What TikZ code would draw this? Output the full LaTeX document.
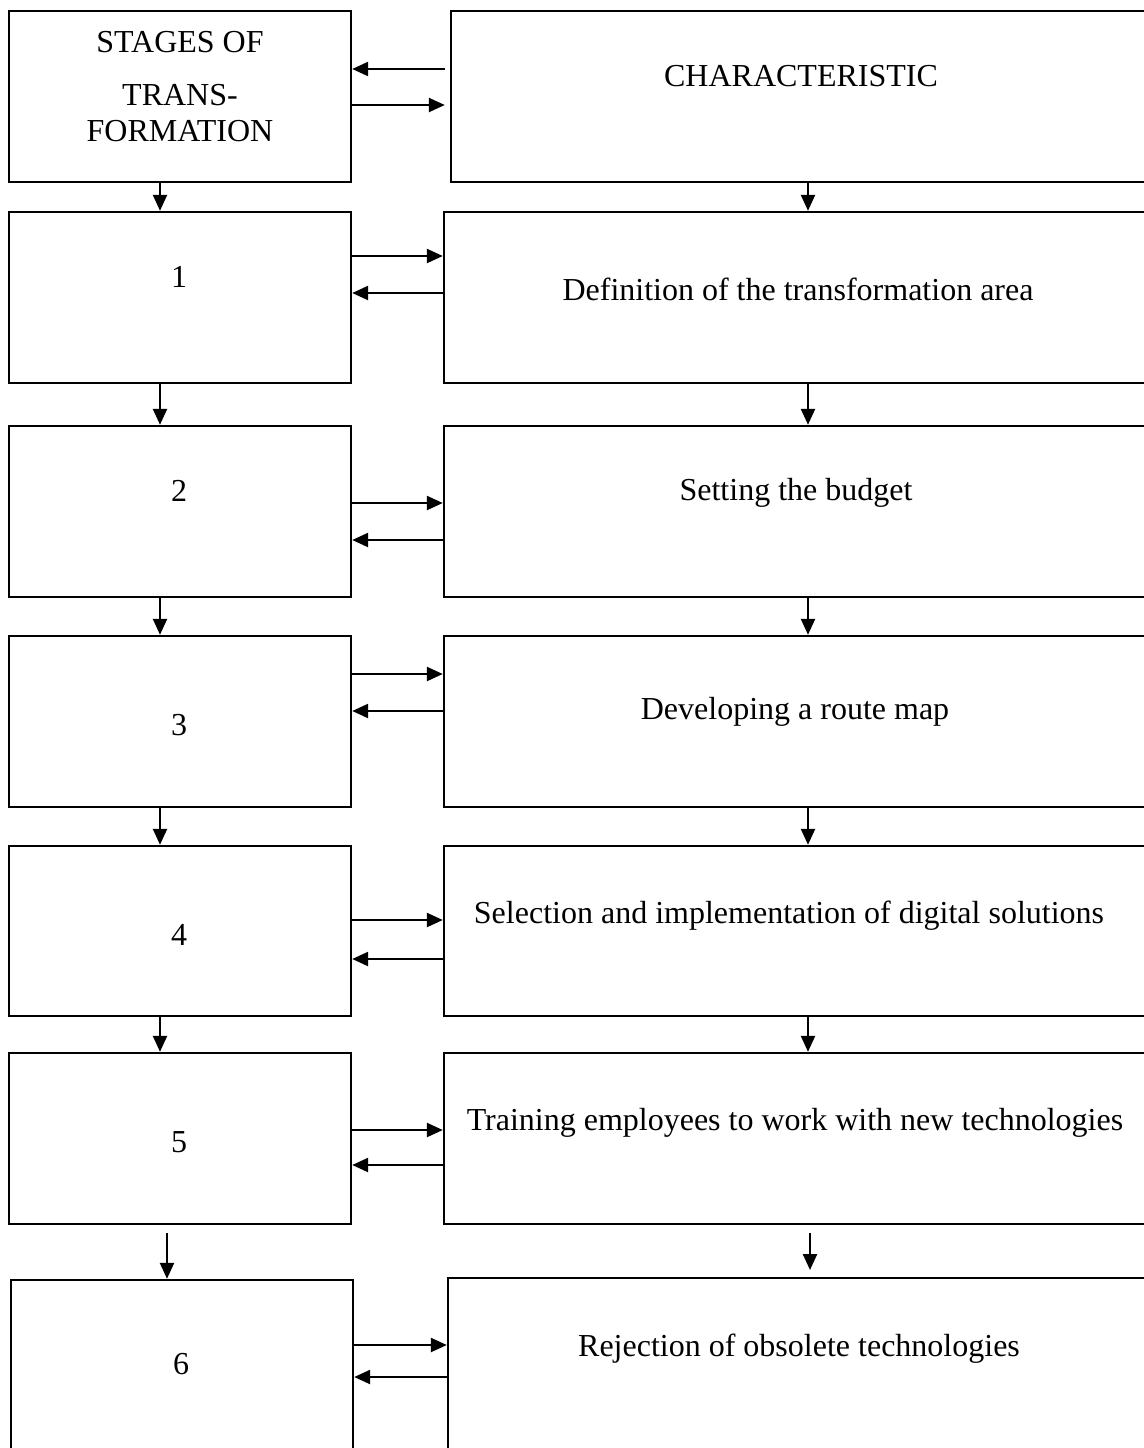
\documentclass[tikz,border=0pt]{standalone}
\usepackage{fontspec}
\setmainfont{Liberation Serif}
\usetikzlibrary{arrows.meta}
\begin{document}
\begin{tikzpicture}[x=1pt,y=-1pt,
  box/.style={draw,line width=2.4pt,inner sep=0pt},
  arr/.style={line width=2.4pt,-{Triangle[length=16pt,width=14pt]}},
  lbl/.style={anchor=base,inner sep=0pt,font=\fontsize{32}{38}\selectfont}]
\useasboundingbox (0,0) rectangle (1143,1448);
\fill[white] (0,0) rectangle (1143,1448);

% left column: stages
\node[box,minimum width=342pt,minimum height=171pt] (l0) at (180,96.5) {};
\node[box,minimum width=342pt,minimum height=171pt] (l1) at (180,297.5) {};
\node[box,minimum width=342pt,minimum height=171pt] (l2) at (180,511.5) {};
\node[box,minimum width=342pt,minimum height=171pt] (l3) at (180,721.5) {};
\node[box,minimum width=342pt,minimum height=170pt] (l4) at (180,931) {};
\node[box,minimum width=342pt,minimum height=171pt] (l5) at (180,1138.5) {};
\node[box,minimum width=342pt,minimum height=190pt] (l6) at (182,1375) {};

% right column: characteristics (running past the right edge)
\node[box,minimum width=709pt,minimum height=171pt] (r0) at (805.5,96.5) {};
\node[box,minimum width=716pt,minimum height=171pt] (r1) at (802,297.5) {};
\node[box,minimum width=716pt,minimum height=171pt] (r2) at (802,511.5) {};
\node[box,minimum width=716pt,minimum height=171pt] (r3) at (802,721.5) {};
\node[box,minimum width=716pt,minimum height=170pt] (r4) at (802,931) {};
\node[box,minimum width=716pt,minimum height=171pt] (r5) at (802,1138.5) {};
\node[box,minimum width=712pt,minimum height=194pt] (r6) at (804,1375) {};

% labels
\node[lbl] (t0a) at (180,52) {STAGES OF};
\node[lbl] (t0b) at (180,105) {TRANS-};
\node[lbl] (t0c) at (180,141) {FORMATION};
\node[lbl] (c0) at (801,86) {CHARACTERISTIC};
\node[lbl] (t1) at (179,287) {1};
\node[lbl] (c1) at (798,300) {Definition of the transformation area};
\node[lbl] (t2) at (179,501) {2};
\node[lbl] (c2) at (796,500) {Setting the budget};
\node[lbl] (t3) at (179,735) {3};
\node[lbl] (c3) at (795,719) {Developing a route map};
\node[lbl] (t4) at (179,945) {4};
\node[lbl] (c4) at (789,923) {Selection and implementation of digital solutions};
\node[lbl] (t5) at (179,1152) {5};
\node[lbl] (c5) at (795,1130) {Training employees to work with new technologies};
\node[lbl] (t6) at (181,1374) {6};
\node[lbl] (c6) at (799,1356) {Rejection of obsolete technologies};

% horizontal links between the columns
\draw[arr] ([xshift=-5pt]r0.west |- 0,69) -- (l0.east |- 0,69);
\draw[arr] (l0.east |- 0,105) -- ([xshift=-5pt]r0.west |- 0,105);
\draw[arr] (l1.east |- 0,256) -- (r1.west |- 0,256);
\draw[arr] (r1.west |- 0,293) -- (l1.east |- 0,293);
\draw[arr] (l2.east |- 0,503) -- (r2.west |- 0,503);
\draw[arr] (r2.west |- 0,540) -- (l2.east |- 0,540);
\draw[arr] (l3.east |- 0,674) -- (r3.west |- 0,674);
\draw[arr] (r3.west |- 0,711) -- (l3.east |- 0,711);
\draw[arr] (l4.east |- 0,920) -- (r4.west |- 0,920);
\draw[arr] (r4.west |- 0,959) -- (l4.east |- 0,959);
\draw[arr] (l5.east |- 0,1130) -- (r5.west |- 0,1130);
\draw[arr] (r5.west |- 0,1165) -- (l5.east |- 0,1165);
\draw[arr] (l6.east |- 0,1345) -- (r6.west |- 0,1345);
\draw[arr] (r6.west |- 0,1377) -- (l6.east |- 0,1377);

% vertical links down each column
\draw[arr] (l0.south -| 160,0) -- (l1.north -| 160,0);
\draw[arr] (l1.south -| 160,0) -- (l2.north -| 160,0);
\draw[arr] (l2.south -| 160,0) -- (l3.north -| 160,0);
\draw[arr] (l3.south -| 160,0) -- (l4.north -| 160,0);
\draw[arr] (l4.south -| 160,0) -- (l5.north -| 160,0);
\coordinate (s6) at (167,1233);
\draw[arr] (s6) -- (l6.north -| s6);

\draw[arr] (r0.south -| 808,0) -- (r1.north -| 808,0);
\draw[arr] (r1.south -| 808,0) -- (r2.north -| 808,0);
\draw[arr] (r2.south -| 808,0) -- (r3.north -| 808,0);
\draw[arr] (r3.south -| 808,0) -- (r4.north -| 808,0);
\draw[arr] (r4.south -| 808,0) -- (r5.north -| 808,0);
\coordinate (u6) at (810,1233);
\coordinate (u6e) at (810,1270);
\draw[arr] (u6) -- (u6e);
\end{tikzpicture}
\end{document}
